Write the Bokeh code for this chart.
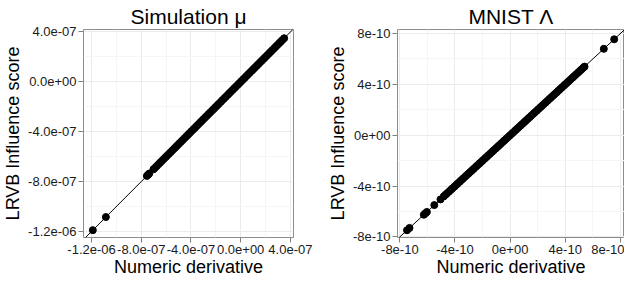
from bokeh.plotting import figure
from bokeh.layouts import row
from bokeh.models import FixedTicker, CustomJSTickFormatter, Slope, Range1d
from bokeh.embed import file_html
from bokeh.resources import INLINE

# ---------------- data ----------------
sim_titles = "Simulation μ"
mnist_titles = "MNIST Λ"
x_label = "Numeric derivative"
y_label = "LRVB Influence score"

sim_ticks = [-1.2e-06, -8.0e-07, -4.0e-07, 0.0, 4.0e-07]
sim_minor = [-1.0e-06, -6.0e-07, -2.0e-07, 2.0e-07]
mnist_ticks = [-8e-10, -4e-10, 0.0, 4e-10, 8e-10]
mnist_minor = [-6e-10, -2e-10, 2e-10, 6e-10]

sim_numeric = [
    -1.19e-06, -1.085e-06, -7.55e-07, -7.45e-07, -7.36e-07,
    -7.02e-07, -6.89e-07, -6.75e-07, -6.60e-07, -6.47e-07, -6.34e-07, -6.19e-07,
    -6.05e-07, -5.93e-07, -5.78e-07, -5.64e-07, -5.50e-07, -5.35e-07, -5.22e-07,
    -5.09e-07, -4.95e-07, -4.80e-07, -4.67e-07, -4.53e-07, -4.38e-07, -4.25e-07,
    -4.12e-07, -3.97e-07, -3.83e-07, -3.70e-07, -3.56e-07, -3.42e-07, -3.27e-07,
    -3.14e-07, -3.01e-07, -2.86e-07, -2.72e-07, -2.59e-07, -2.45e-07, -2.30e-07,
    -2.17e-07, -2.03e-07, -1.89e-07, -1.76e-07, -1.61e-07, -1.48e-07, -1.34e-07,
    -1.20e-07, -1.05e-07, -9.2e-08, -7.8e-08, -6.4e-08, -5.0e-08, -3.7e-08,
    -2.2e-08, -9.0e-09, 5.0e-09, 1.9e-08, 3.3e-08, 4.7e-08, 6.0e-08, 7.4e-08,
    8.9e-08, 1.02e-07, 1.15e-07, 1.30e-07, 1.43e-07, 1.57e-07, 1.71e-07,
    1.85e-07, 1.98e-07, 2.12e-07, 2.27e-07, 2.40e-07, 2.53e-07, 2.68e-07,
    2.81e-07, 2.95e-07, 3.10e-07, 3.22e-07, 3.36e-07, 3.50e-07,
]
sim_lrvb = list(sim_numeric)  # LRVB and numeric derivative agree to plot precision

mnist_numeric = [
    -7.48e-10, -7.30e-10, -6.26e-10, -6.15e-10, -6.04e-10, -5.50e-10, -5.05e-10,
    -4.82e-10, -4.70e-10, -4.58e-10, -4.44e-10, -4.31e-10, -4.19e-10, -4.05e-10,
    -3.92e-10, -3.80e-10, -3.66e-10, -3.53e-10, -3.41e-10, -3.27e-10, -3.14e-10,
    -3.02e-10, -2.88e-10, -2.75e-10, -2.63e-10, -2.49e-10, -2.36e-10, -2.22e-10,
    -2.10e-10, -1.97e-10, -1.83e-10, -1.71e-10, -1.58e-10, -1.45e-10, -1.31e-10,
    -1.19e-10, -1.06e-10, -9.2e-11, -8.0e-11, -6.7e-11, -5.3e-11, -4.1e-11,
    -2.8e-11, -1.5e-11, -2.0e-12, 1.1e-11, 2.4e-11, 3.8e-11, 5.0e-11, 6.3e-11,
    7.6e-11, 8.9e-11, 1.03e-10, 1.15e-10, 1.28e-10, 1.41e-10, 1.54e-10, 1.68e-10,
    1.80e-10, 1.93e-10, 2.06e-10, 2.20e-10, 2.32e-10, 2.45e-10, 2.58e-10,
    2.71e-10, 2.85e-10, 2.97e-10, 3.10e-10, 3.23e-10, 3.37e-10, 3.49e-10,
    3.62e-10, 3.75e-10, 3.89e-10, 4.01e-10, 4.14e-10, 4.27e-10, 4.40e-10,
    4.54e-10, 4.66e-10, 4.79e-10, 4.93e-10, 5.05e-10, 5.18e-10, 5.31e-10,
    5.40e-10, 6.80e-10, 7.55e-10,
]
mnist_lrvb = list(mnist_numeric)

FONT = "Liberation Sans"

def fmt_code(digits):
    return (
        "const s = tick.toExponential(%d);"
        "return s.replace(/e([+-])(\\d)$/, (m, a, b) => 'e' + a + '0' + b);" % digits
    )

def make_panel(title, xs, ys, ticks, minor, xr, yr, digits, width, bl, br):
    p = figure(width=width, height=279, output_backend="svg", toolbar_location=None,
               x_range=Range1d(*xr), y_range=Range1d(*yr),
               min_border_left=bl, min_border_right=br, min_border_top=0,
               min_border_bottom=0)
    p.title.text = title
    p.title.align = "center"
    p.title.text_font = FONT
    p.title.text_font_size = "21px"
    p.title.text_font_style = "normal"
    p.title.text_color = "black"
    p.title.standoff = 4
    p.outline_line_color = "#8c8c8c"
    p.outline_line_width = 1
    p.background_fill_color = "white"
    p.border_fill_color = "white"
    for ax, lab in ((p.xaxis[0], x_label), (p.yaxis[0], y_label)):
        ax.ticker = FixedTicker(ticks=ticks, minor_ticks=minor)
        ax.formatter = CustomJSTickFormatter(code=fmt_code(digits))
        ax.axis_label = lab
        ax.axis_label_text_font = FONT
        ax.axis_label_text_font_size = "18px"
        ax.axis_label_text_font_style = "normal"
        ax.axis_label_text_color = "black"
        ax.axis_label_standoff = 2
        ax.major_label_text_font = FONT
        ax.major_label_text_font_size = "13px"
        ax.major_label_text_color = "#1a1a1a"
        ax.major_label_standoff = 2
        ax.axis_line_color = None
        ax.major_tick_line_color = "#7f7f7f"
        ax.major_tick_in = 0
        ax.major_tick_out = 5
        ax.minor_tick_line_color = None
    p.xaxis[0].axis_label_standoff = 0
    for g in (p.xgrid[0], p.ygrid[0]):
        g.grid_line_color = "#ebebeb"
        g.grid_line_width = 1
        g.minor_grid_line_color = "#f5f5f5"
        g.minor_grid_line_width = 1
    p.add_layout(Slope(gradient=1, y_intercept=0, line_color="black", line_width=1))
    p.scatter(xs, ys, size=7, color="black")
    return p

p1 = make_panel(sim_titles, sim_numeric, sim_lrvb, sim_ticks, sim_minor,
                (-1.265e-06, 4.25e-07), (-1.249e-06, 4.2e-07), 1, 313, 76, 20)
p2 = make_panel(mnist_titles, mnist_numeric, mnist_lrvb, mnist_ticks, mnist_minor,
                (-8.17e-10, 8.3e-10), (-8.05e-10, 8.32e-10), 0, 311, 84, 0)

layout = row(p1, p2)
open("out.html", "w").write(file_html(layout, INLINE))
